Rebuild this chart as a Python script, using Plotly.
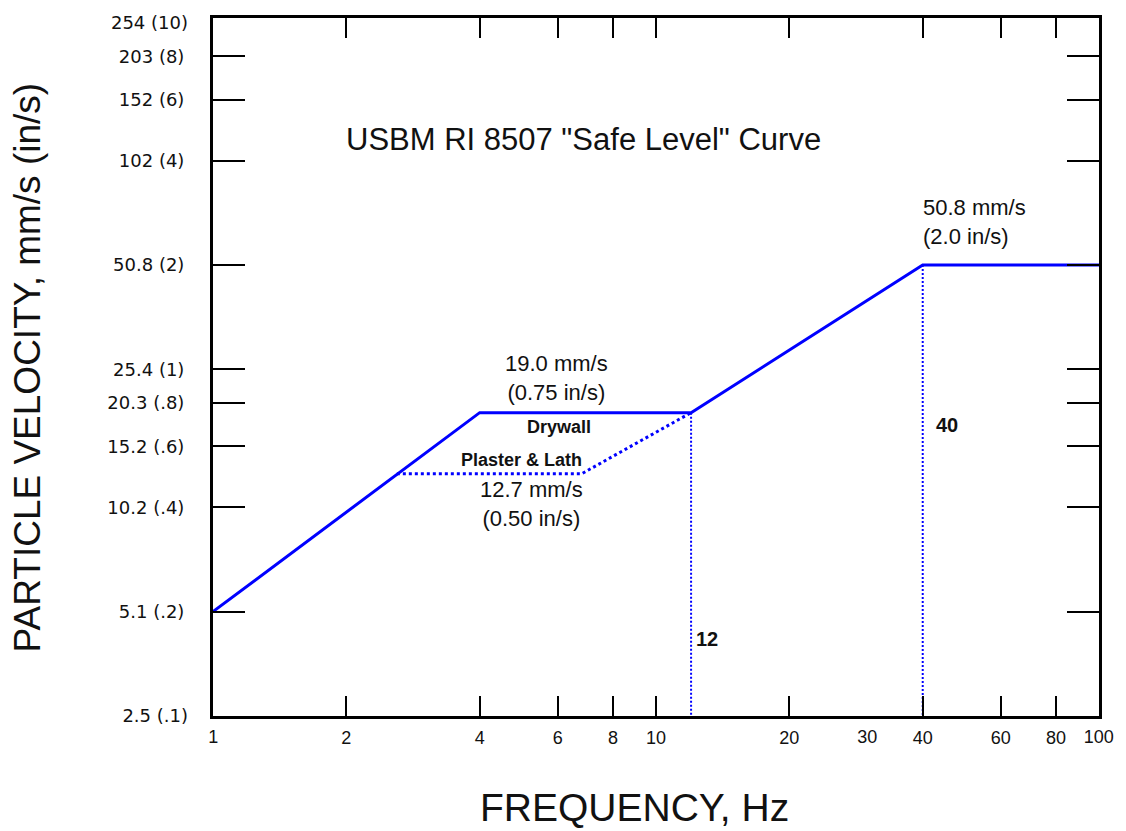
import math
import plotly.graph_objects as go

IN_TO_MM = 25.4

# Axis ticks
freq_ticks = [2, 4, 6, 8, 10, 20, 40, 60, 80]
freq_label_only = [1, 30, 100]
vel_tick_in = [0.2, 0.4, 0.6, 0.8, 1, 2, 4, 6, 8]
vel_tick_text = ["5.1 (.2)", "10.2 (.4)", "15.2 (.6)", "20.3 (.8)", "25.4 (1)",
                 "50.8 (2)", "102 (4)", "152 (6)", "203 (8)"]
vel_end_in = [0.1, 10]
vel_end_text = ["2.5 (.1)", "254 (10)"]

# Curves (velocity in in/s)
drywall_freq = [1, 4, 12, 40, 100]
drywall_vel_in = [0.2, 0.75, 0.75, 2.0, 2.0]
plaster_freq = [2.6, 6.8, 12]
plaster_vel_in = [0.5, 0.5, 0.75]
marker_freq = [12, 40]
marker_vel_in = [0.75, 2.0]
floor_vel_in = 0.1

FONT = "Liberation Sans, Arial, sans-serif"
BLUE = "#0000FF"

fig = go.Figure()

fig.add_trace(go.Scatter(
    x=drywall_freq, y=[v * IN_TO_MM for v in drywall_vel_in],
    mode="lines", line=dict(color=BLUE, width=3), hoverinfo="skip"))
fig.add_trace(go.Scatter(
    x=plaster_freq, y=[v * IN_TO_MM for v in plaster_vel_in],
    mode="lines", line=dict(color=BLUE, width=3, dash="3px,3px"), hoverinfo="skip"))
for f, v in zip(marker_freq, marker_vel_in):
    fig.add_trace(go.Scatter(
        x=[f, f], y=[v * IN_TO_MM, floor_vel_in * IN_TO_MM],
        mode="lines", line=dict(color=BLUE, width=2, dash="2px,2px"), hoverinfo="skip"))

# invisible traces so overlay axes are created
fig.add_trace(go.Scatter(x=[10], y=[10], xaxis="x2", yaxis="y", mode="markers",
                         marker=dict(size=1, opacity=0), hoverinfo="skip"))
fig.add_trace(go.Scatter(x=[10], y=[10], xaxis="x", yaxis="y2", mode="markers",
                         marker=dict(size=1, opacity=0), hoverinfo="skip"))

yr = [math.log10(2.54), math.log10(262)]

fig.update_layout(
    width=1126, height=831, autosize=False,
    margin=dict(l=213, r=25, t=12, b=115),
    paper_bgcolor="white", plot_bgcolor="white",
    showlegend=False,
    font=dict(family=FONT, color="#111"),
    xaxis=dict(
        type="log", range=[0, 2], autorange=False,
        tickmode="array", tickvals=freq_ticks, ticktext=[str(v) for v in freq_ticks],
        ticks="inside", ticklen=20, tickwidth=2, tickcolor="black",
        showline=True, linewidth=3, linecolor="black", mirror="ticks",
        showgrid=False, zeroline=False,
        tickfont=dict(family=FONT, size=18, color="#111"),
        ticklabelstandoff=3,
    ),
    xaxis2=dict(
        type="log", overlaying="x", anchor="y", side="bottom",
        range=[math.log10(0.999), math.log10(100.1)], autorange=False,
        tickmode="array", tickvals=freq_label_only, ticktext=[str(v) for v in freq_label_only],
        ticks="", showline=False, showgrid=False, zeroline=False,
        tickfont=dict(family=FONT, size=18, color="#111"),
        ticklabelstandoff=8,
    ),
    yaxis=dict(
        type="log", range=yr, autorange=False,
        tickmode="array", tickvals=[v * IN_TO_MM for v in vel_tick_in], ticktext=vel_tick_text,
        ticks="inside", ticklen=32, tickwidth=2, tickcolor="black",
        showline=True, linewidth=3, linecolor="black", mirror="ticks",
        showgrid=False, zeroline=False,
        tickfont=dict(family="DejaVu Sans", size=18, color="#111"),
        ticklabelstandoff=22,
    ),
    yaxis2=dict(
        type="log", overlaying="y", anchor="x", side="left",
        range=[math.log10(2.535), math.log10(262)], autorange=False,
        tickmode="array", tickvals=[v * IN_TO_MM for v in vel_end_in], ticktext=vel_end_text,
        ticks="", showline=False, showgrid=False, zeroline=False,
        tickfont=dict(family="DejaVu Sans", size=18, color="#111"),
        ticklabelstandoff=24,
    ),
)

annotations = [
    dict(text="PARTICLE VELOCITY, mm/s (in/s)", x=-0.2095, y=0.5, textangle=-90,
         font=dict(size=37, color="#111"), xanchor="center", yanchor="middle"),
    dict(text="FREQUENCY, Hz", x=0.4752, y=-0.131,
         font=dict(size=39, color="#111"), xanchor="center", yanchor="middle"),
    dict(text='USBM RI 8507 "Safe Level" Curve', x=0.4184, y=0.8253,
         font=dict(size=31, color="#111"), xanchor="center", yanchor="middle"),
    dict(text="50.8 mm/s<br>(2.0 in/s)", x=0.7995, y=0.708, align="left",
         font=dict(size=22, color="#111"), xanchor="left", yanchor="middle"),
    dict(text="19.0 mm/s<br>(0.75 in/s)", x=0.3874, y=0.4844,
         font=dict(size=22, color="#111"), xanchor="center", yanchor="middle"),
    dict(text="<b>Drywall</b>", x=0.3908, y=0.4134,
         font=dict(size=18, color="#111"), xanchor="center", yanchor="middle"),
    dict(text="<b>Plaster & Lath</b>", x=0.348, y=0.3665,
         font=dict(size=18, color="#111"), xanchor="center", yanchor="middle"),
    dict(text="12.7 mm/s<br>(0.50 in/s)", x=0.3592, y=0.3033,
         font=dict(size=22, color="#111"), xanchor="center", yanchor="middle"),
    dict(text="<b>12</b>", x=0.5574, y=0.1108,
         font=dict(size=20, color="#111"), xanchor="center", yanchor="middle"),
    dict(text="<b>40</b>", x=0.8288, y=0.4176,
         font=dict(size=20, color="#111"), xanchor="center", yanchor="middle"),
]
for a in annotations:
    a.update(xref="paper", yref="paper", showarrow=False)
    a["font"]["family"] = FONT
fig.update_layout(annotations=annotations)

fig.write_html("out.html")
